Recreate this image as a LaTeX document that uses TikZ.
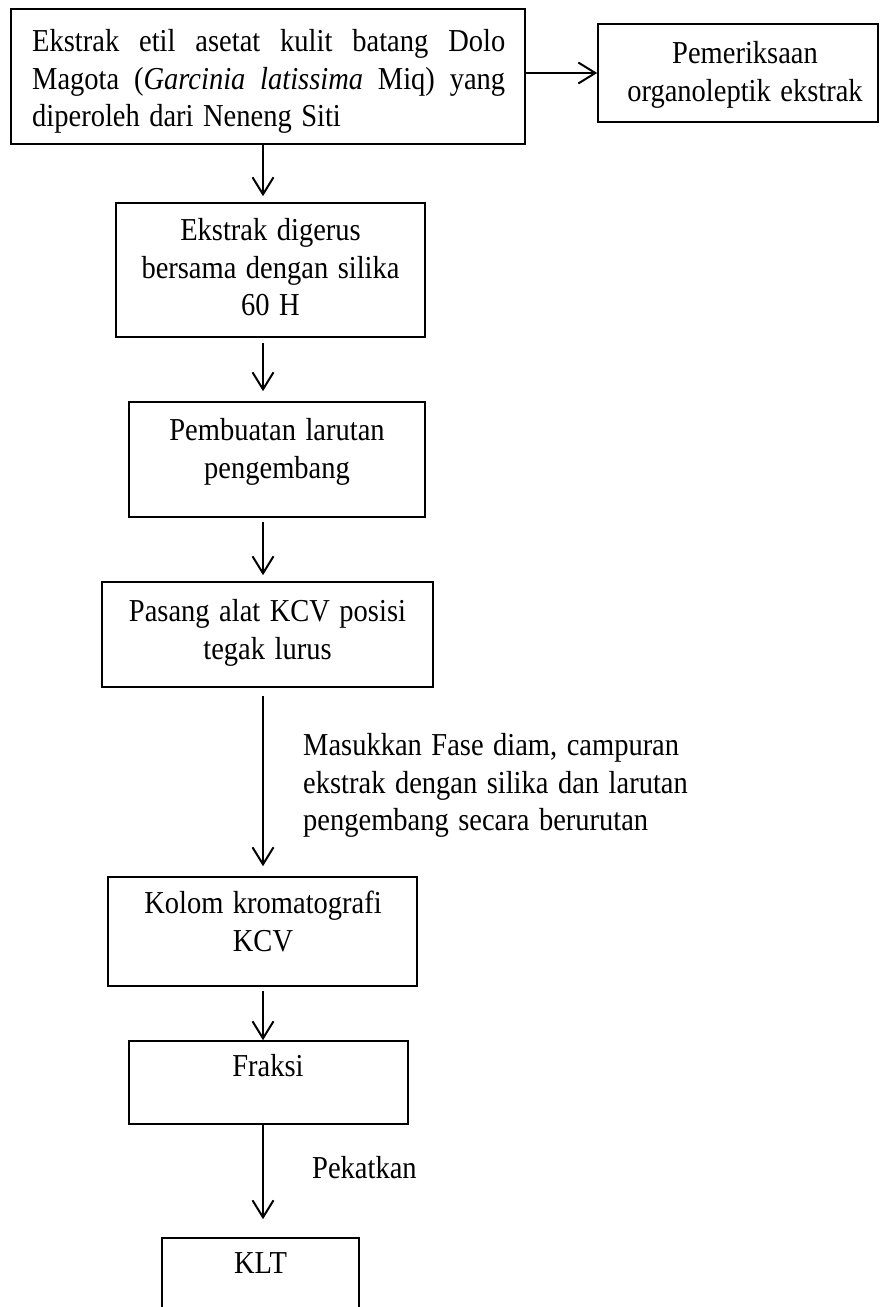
\documentclass[tikz,border=0pt]{standalone}
\usepackage{fontspec}
\usepackage{graphicx}
\setmainfont{Liberation Serif}
\usetikzlibrary{arrows.meta}
\newcommand{\tl}[1]{\scalebox{1}[1.12]{#1}}
\tikzset{
  box/.style={draw, line width=1.6pt, inner sep=0pt, rectangle},
  arr/.style={line width=2pt, -{Straight Barb[length=17pt,width=21pt]}},
  txt/.style={inner sep=0pt, font=\fontsize{28.5}{37.5}\selectfont},
}
\begin{document}
\begin{tikzpicture}[x=1pt,y=-1pt]
\useasboundingbox (0,0) rectangle (884,1307);
\clip (0,0) rectangle (884,1307);
% boxes
\node[box, minimum width=514pt, minimum height=135pt] (b1) at (268,76.5) {};
\node[box, minimum width=280pt, minimum height=98pt] (r) at (738,73) {};
\node[box, minimum width=309pt, minimum height=134pt] (b2) at (270.5,270) {};
\node[box, minimum width=296pt, minimum height=115pt] (b3) at (277,459.5) {};
\node[box, minimum width=331pt, minimum height=105pt] (b4) at (267.5,634.5) {};
\node[box, minimum width=309pt, minimum height=109pt] (b5) at (262.5,931.5) {};
\node[box, minimum width=279pt, minimum height=83pt] (b6) at (268.5,1082.5) {};
\node[box, minimum width=197pt, minimum height=92pt] (b7) at (260.5,1284) {};
% texts
\node[txt, anchor=base west, text width=473pt, align=left] (t1) at (32,51.5)
  {\tl{\hbox to 473pt{Ekstrak\hfill etil\hfill asetat\hfill kulit\hfill batang\hfill Dolo}}\\
   \tl{\hbox to 473pt{Magota\hfill (\textit{Garcinia}\hfill\textit{latissima}\hfill Miq)\hfill yang}}\\
   \tl{diperoleh dari Neneng Siti}};
\node[txt, anchor=base, text width=280pt, align=center] (tr) at (745,63.5)
  {\tl{Pemeriksaan}\\\tl{organoleptik ekstrak}};
\node[txt, anchor=base, text width=309pt, align=center] (t2) at (270.5,240.5)
  {\tl{Ekstrak digerus}\\\tl{bersama dengan silika}\\\tl{60 H}};
\node[txt, anchor=base, text width=296pt, align=center] (t3) at (277,440.5)
  {\tl{Pembuatan larutan}\\\tl{pengembang}};
\node[txt, anchor=base, text width=331pt, align=center] (t4) at (267.5,621.5)
  {\tl{Pasang alat KCV posisi}\\\tl{tegak lurus}};
\node[txt, anchor=base, text width=309pt, align=center] (t5) at (263,913.5)
  {\tl{Kolom kromatografi}\\\tl{KCV}};
\node[txt, anchor=base, text width=279pt, align=center] (t6) at (268,1076.5)
  {\tl{Fraksi}};
\node[txt, anchor=base, text width=197pt, align=center] (t7) at (260.5,1273.5)
  {\tl{KLT}};
\node[txt, anchor=base west, text width=440pt, align=left] (l1) at (303,755.5)
  {\tl{Masukkan Fase diam, campuran}\\\tl{ekstrak dengan silika dan larutan}\\\tl{pengembang secara berurutan}};
\node[txt, anchor=base west] (l2) at (312,1178.5) {\tl{Pekatkan}};
% connectors
\coordinate (ax) at (263,0);
\draw[arr] (b1.east |- r.west) -- (r.west);
\draw[arr, shorten >=6pt] (b1.south -| ax) -- (b2.north -| ax);
\draw[arr, shorten <=5pt, shorten >=10pt] (b2.south -| ax) -- (b3.north -| ax);
\draw[arr, shorten <=4pt, shorten >=6pt] (b3.south -| ax) -- (b4.north -| ax);
\draw[arr, shorten <=8pt, shorten >=10pt] (b4.south -| ax) -- (b5.north -| ax);
\draw[arr, shorten <=4pt] (b5.south -| ax) -- (b6.north -| ax);
\draw[arr, shorten >=18pt] (b6.south -| ax) -- (b7.north -| ax);
\end{tikzpicture}
\end{document}
